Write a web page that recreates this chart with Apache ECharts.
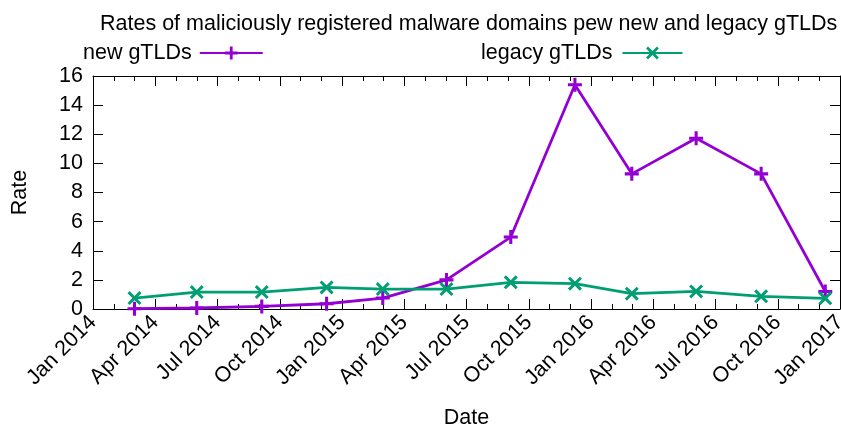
<!DOCTYPE html>
<html>
<head>
<meta charset="utf-8">
<script src="https://cdn.jsdelivr.net/npm/echarts@6/dist/echarts.min.js"></script>
<style>
  html, body { margin: 0; padding: 0; background: #fff; }
  #chart { width: 841px; height: 428px; }
</style>
</head>
<body>
<div id="chart"></div>
<script type="text/javascript">
// sample dates and rates
var dates = ['2014-03-01', '2014-06-01', '2014-09-05', '2014-12-09', '2015-02-28', '2015-06-02',
             '2015-09-05', '2015-12-08', '2016-02-29', '2016-06-03', '2016-09-07', '2016-12-10'];
var newRates = [0.02, 0.07, 0.18, 0.36, 0.75, 2.0, 4.94, 15.4, 9.28, 11.72, 9.28, 1.2];
var legacyRates = [0.75, 1.16, 1.16, 1.48, 1.37, 1.37, 1.83, 1.74, 1.05, 1.21, 0.87, 0.73];
var tickLabels = ['Jan 2014', 'Apr 2014', 'Jul 2014', 'Oct 2014', 'Jan 2015', 'Apr 2015', 'Jul 2015',
                  'Oct 2015', 'Jan 2016', 'Apr 2016', 'Jul 2016', 'Oct 2016', 'Jan 2017'];

// months elapsed since Jan 2014
function toMonths(s){
  var p = s.split('-');
  var y = +p[0], m = +p[1], d = +p[2];
  var dim = new Date(y, m, 0).getDate();
  return (y - 2014) * 12 + (m - 1) + (d - 1) / dim;
}
function pairs(vals){
  var out = [];
  for (var i = 0; i < dates.length; i++){
    out.push([toMonths(dates[i]), vals[i]]);
  }
  return out;
}

var FONT = 'Liberation Sans';
var FS = 21.5;
var PLUS = 'path://M-2.2,-10H2.2V-2.2H10V2.2H2.2V10H-2.2V2.2H-10V-2.2H-2.2Z';
var CROSS = 'path://M-10,-7L-7,-10L0,-3L7,-10L10,-7L3,0L10,7L7,10L0,3L-7,10L-10,7L-3,0Z';

var chart = echarts.init(document.getElementById('chart'));

var xBase = {
  type: 'value', min: 0, max: 36, interval: 3,
  axisLine: { show: true, onZero: false, lineStyle: { color: '#000', width: 1 } },
  axisTick: { show: true, inside: true, length: 10, lineStyle: { color: '#000' } },
  minorTick: { show: true, splitNumber: 3, length: 5, lineStyle: { color: '#000' } },
  splitLine: { show: false },
  minorSplitLine: { show: false }
};
var yBase = {
  type: 'value', min: 0, max: 16, interval: 2,
  axisLine: { show: true, onZero: false, lineStyle: { color: '#000', width: 1 } },
  axisTick: { show: true, inside: true, length: 10, lineStyle: { color: '#000' } },
  splitLine: { show: false }
};

var option = {
  animation: false,
  backgroundColor: '#fff',
  textStyle: { fontFamily: FONT, color: '#000' },
  title: {
    text: 'Rates of maliciously registered malware domains pew new and legacy gTLDs',
    left: 95, top: 8,
    textStyle: { fontFamily: FONT, fontSize: FS, fontWeight: 'normal', color: '#000' }
  },
  legend: [
    {
      data: ['new gTLDs'], left: 78, top: 37, align: 'right',
      itemWidth: 63, itemHeight: 16,
      textStyle: { fontFamily: FONT, fontSize: FS, color: '#000', padding: [0, 3, 0, 0] }
    },
    {
      data: ['legacy gTLDs'], left: 476, top: 37, align: 'right',
      itemWidth: 60, itemHeight: 16,
      textStyle: { fontFamily: FONT, fontSize: FS, color: '#000', padding: [0, 5, 0, 0] }
    }
  ],
  grid: { left: 93, right: 1, top: 76, bottom: 119, containLabel: false, outerBoundsMode: 'none' },
  xAxis: [
    Object.assign({}, xBase, {
      position: 'bottom',
      name: 'Date', nameLocation: 'middle', nameGap: 98,
      nameTextStyle: { fontFamily: FONT, fontSize: FS, color: '#000' },
      axisLabel: {
        rotate: 45, margin: 10, fontFamily: FONT, fontSize: FS, color: '#000',
        formatter: function(v){ return tickLabels[Math.round(v / 3)]; }
      }
    }),
    Object.assign({}, xBase, { position: 'top', axisLabel: { show: false } })
  ],
  yAxis: [
    Object.assign({}, yBase, {
      position: 'left',
      name: 'Rate', nameLocation: 'middle', nameGap: 62, nameRotate: 90,
      nameTextStyle: { fontFamily: FONT, fontSize: FS, color: '#000' },
      axisLabel: { margin: 10, fontFamily: FONT, fontSize: FS, color: '#000' }
    }),
    Object.assign({}, yBase, { position: 'right', axisLabel: { show: false } })
  ],
  series: [
    {
      name: 'new gTLDs', type: 'line', data: pairs(newRates),
      symbol: PLUS, symbolSize: 14, showAllSymbol: true,
      lineStyle: { color: '#9400d3', width: 2.8 },
      itemStyle: { color: '#9400d3' }
    },
    {
      name: 'legacy gTLDs', type: 'line', data: pairs(legacyRates),
      symbol: CROSS, symbolSize: 14, showAllSymbol: true,
      lineStyle: { color: '#009e73', width: 2.8 },
      itemStyle: { color: '#009e73' }
    }
  ]
};
chart.setOption(option);
</script>
</body>
</html>
